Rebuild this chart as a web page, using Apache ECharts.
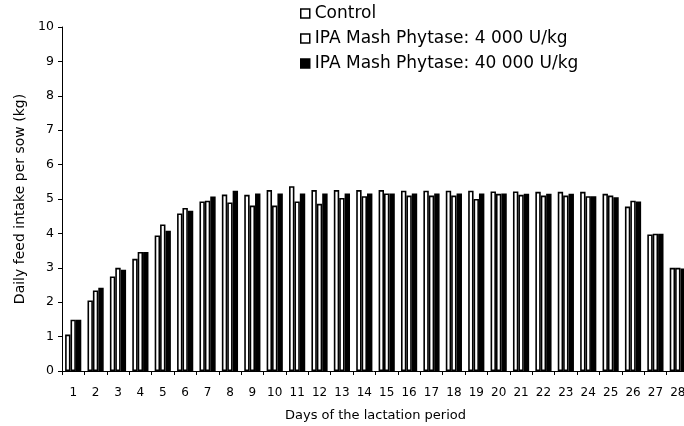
<!DOCTYPE html>
<html>
<head>
<meta charset="utf-8">
<script src="https://cdn.jsdelivr.net/npm/echarts@6/dist/echarts.min.js"></script>
<style>
  html, body { margin: 0; padding: 0; background: #fff; }
  #chart { width: 684px; height: 426px; }
</style>
</head>
<body>
<div id="chart"></div>
<script>
// Days of lactation (x categories)
const days = ['1','2','3','4','5','6','7','8','9','10','11','12','13','14',
              '15','16','17','18','19','20','21','22','23','24','25','26','27','28'];

// Daily feed intake per sow (kg) for each treatment
const control = [1.06, 2.05, 2.75, 3.26, 3.94, 4.58, 4.93, 5.13, 5.12, 5.26, 5.37, 5.26, 5.26, 5.26,
                 5.26, 5.24, 5.24, 5.24, 5.24, 5.22, 5.22, 5.21, 5.21, 5.21, 5.15, 4.78, 3.97, 3.00];
const phytase4000 = [1.49, 2.34, 3.00, 3.46, 4.26, 4.74, 4.95, 4.90, 4.81, 4.81, 4.93, 4.86, 5.03, 5.08,
                     5.16, 5.10, 5.10, 5.10, 5.00, 5.15, 5.12, 5.10, 5.10, 5.08, 5.10, 4.95, 3.99, 3.00];
const phytase40000 = [1.49, 2.42, 2.94, 3.46, 4.08, 4.66, 5.07, 5.24, 5.16, 5.16, 5.16, 5.16, 5.16, 5.16,
                      5.16, 5.16, 5.16, 5.16, 5.16, 5.16, 5.15, 5.15, 5.15, 5.08, 5.05, 4.93, 3.99, 2.98];

// Y axis range
const yMin = 0, yMax = 10, yStep = 1;

const seriesNames = ['Control', 'IPA Mash Phytase: 4 000 U/kg', 'IPA Mash Phytase: 40 000 U/kg'];
const seriesFills = ['#ffffff', '#ffffff', '#000000'];
const seriesData = [control, phytase4000, phytase40000];

const font = 'DejaVu Sans';
const chart = echarts.init(document.getElementById('chart'));

chart.setOption({
  backgroundColor: '#ffffff',
  animation: false,
  textStyle: { fontFamily: font, color: '#000' },
  legend: {
    orient: 'vertical',
    left: 300,
    top: 5,
    itemWidth: 9,
    itemHeight: 9,
    itemGap: 8,
    padding: 0,
    icon: 'rect',
    itemStyle: { borderWidth: 1.5, borderColor: '#000' },
    textStyle: { fontFamily: font, fontSize: 17, color: '#000' },
    data: seriesNames
  },
  grid: {
    left: 62,
    right: -5,
    top: 27,
    bottom: 55,
    containLabel: false,
    outerBoundsMode: 'none'
  },
  xAxis: {
    type: 'category',
    data: days,
    name: 'Days of the lactation period',
    nameLocation: 'middle',
    nameGap: 38,
    nameTextStyle: { fontFamily: font, fontSize: 13, color: '#000' },
    axisLine: { show: true, lineStyle: { color: '#000', width: 1 } },
    axisTick: { show: true, length: 4, lineStyle: { color: '#000' } },
    axisLabel: { fontFamily: font, fontSize: 12, color: '#000', margin: 16, interval: 0 },
    splitLine: { show: false }
  },
  yAxis: {
    type: 'value',
    min: yMin,
    max: yMax,
    interval: yStep,
    name: 'Daily feed intake per sow (kg)',
    nameLocation: 'middle',
    nameGap: 35,
    nameTextStyle: { fontFamily: font, fontSize: 14, color: '#000' },
    axisLine: { show: true, lineStyle: { color: '#000', width: 1 } },
    axisTick: { show: true, length: 4, lineStyle: { color: '#000' } },
    axisLabel: { fontFamily: font, fontSize: 12.5, color: '#000', margin: 8 },
    splitLine: { show: false }
  },
  series: seriesNames.map((name, i) => ({
    name: name,
    type: 'bar',
    data: seriesData[i],
    barWidth: 5.4,
    barGap: '0%',
    itemStyle: { color: seriesFills[i], borderColor: '#000', borderWidth: 1.6 }
  }))
});
</script>
</body>
</html>
